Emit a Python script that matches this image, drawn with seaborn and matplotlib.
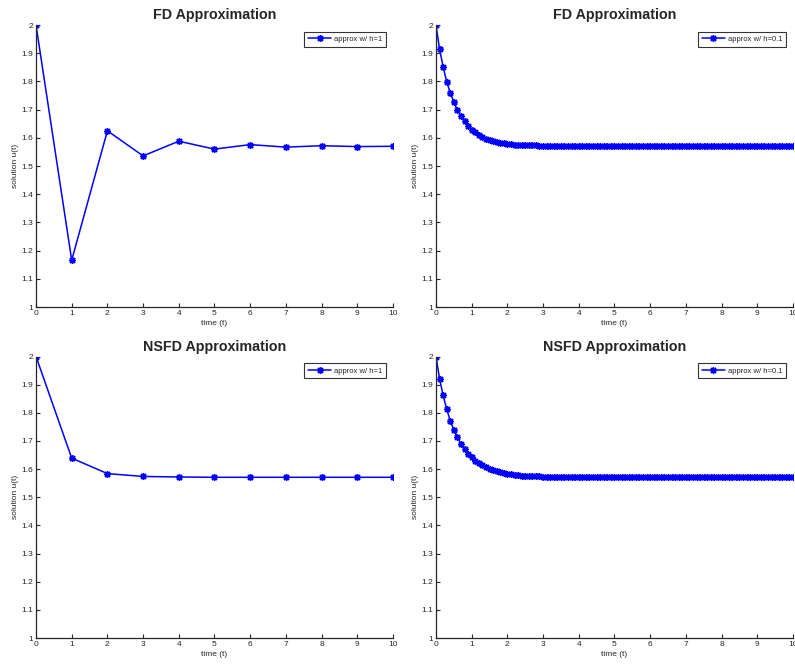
import numpy as np
import matplotlib
matplotlib.use("Agg")
import matplotlib.pyplot as plt
import seaborn as sns
from matplotlib.ticker import FormatStrFormatter, MultipleLocator

# Style: plain white axes, only left/bottom spines, ticks pointing in
sns.set_theme(style="ticks")
plt.rcParams['font.family'] = ['Liberation Sans', 'DejaVu Sans']
plt.rcParams['xtick.direction'] = 'in'
plt.rcParams['ytick.direction'] = 'in'

# ---- data ----
t_coarse = [0, 1, 2, 3, 4, 5, 6, 7, 8, 9, 10]
t_fine = np.linspace(0, 10, 101)

fd_h1 = [2.000, 1.166, 1.625, 1.536, 1.588, 1.560, 1.576, 1.567, 1.572, 1.569, 1.570]
nsfd_h1 = [2.000, 1.639, 1.584, 1.574, 1.572, 1.571, 1.571, 1.571, 1.571, 1.571, 1.571]

fd_h01 = [
    2.000, 1.915, 1.852, 1.799, 1.760, 1.727, 1.699, 1.678, 1.659, 1.642,
    1.629, 1.619, 1.610, 1.603, 1.597, 1.592, 1.588, 1.585, 1.583, 1.581,
    1.579, 1.577, 1.576, 1.575, 1.575, 1.574, 1.573, 1.573, 1.573, 1.572,
    1.572, 1.572, 1.571, 1.571, 1.571, 1.571, 1.571, 1.571, 1.571, 1.571,
    1.571, 1.571, 1.571, 1.571, 1.571, 1.571, 1.571, 1.571, 1.571, 1.571,
    1.571, 1.571, 1.571, 1.571, 1.571, 1.571, 1.571, 1.571, 1.571, 1.571,
    1.571, 1.571, 1.571, 1.571, 1.571, 1.571, 1.571, 1.571, 1.571, 1.571,
    1.571, 1.571, 1.571, 1.571, 1.571, 1.571, 1.571, 1.571, 1.571, 1.571,
    1.571, 1.571, 1.571, 1.571, 1.571, 1.571, 1.571, 1.571, 1.571, 1.571,
    1.571, 1.571, 1.571, 1.571, 1.571, 1.571, 1.571, 1.571, 1.571, 1.571,
    1.571,
]

nsfd_h01 = [
    2.000, 1.921, 1.862, 1.813, 1.772, 1.739, 1.713, 1.690, 1.671, 1.655,
    1.642, 1.630, 1.621, 1.613, 1.606, 1.601, 1.596, 1.592, 1.589, 1.586,
    1.583, 1.581, 1.580, 1.578, 1.577, 1.576, 1.575, 1.575, 1.574, 1.574,
    1.573, 1.573, 1.573, 1.572, 1.572, 1.572, 1.572, 1.571, 1.571, 1.571,
    1.571, 1.571, 1.571, 1.571, 1.571, 1.571, 1.571, 1.571, 1.571, 1.571,
    1.571, 1.571, 1.571, 1.571, 1.571, 1.571, 1.571, 1.571, 1.571, 1.571,
    1.571, 1.571, 1.571, 1.571, 1.571, 1.571, 1.571, 1.571, 1.571, 1.571,
    1.571, 1.571, 1.571, 1.571, 1.571, 1.571, 1.571, 1.571, 1.571, 1.571,
    1.571, 1.571, 1.571, 1.571, 1.571, 1.571, 1.571, 1.571, 1.571, 1.571,
    1.571, 1.571, 1.571, 1.571, 1.571, 1.571, 1.571, 1.571, 1.571, 1.571,
    1.571,
]

panels = [
    ("FD Approximation", t_coarse, fd_h1, "approx w/ h=1"),
    ("FD Approximation", t_fine, fd_h01, "approx w/ h=0.1"),
    ("NSFD Approximation", t_coarse, nsfd_h1, "approx w/ h=1"),
    ("NSFD Approximation", t_fine, nsfd_h01, "approx w/ h=0.1"),
]

# axes rectangles in figure fractions (left, bottom, width, height)
rects = [
    (0.0453, 0.539, 0.449, 0.4234),
    (0.5484, 0.539, 0.449, 0.4234),
    (0.0453, 0.042, 0.449, 0.4227),
    (0.5484, 0.042, 0.449, 0.4227),
]

fig = plt.figure(figsize=(7.95, 6.66), dpi=100)

for (title, tx, uy, lab), rect in zip(panels, rects):
    ax = fig.add_axes(rect)
    # 8-spoke asterisk, like the Octave '*' marker
    sns.lineplot(x=tx, y=uy, ax=ax, color='blue', marker=(8, 2, 0), markersize=5,
                 markeredgecolor='blue', markeredgewidth=1.0, linewidth=1.1,
                 label=lab)
    ax.set_xlim(0, 10)
    ax.set_ylim(1, 2)
    ax.xaxis.set_major_locator(MultipleLocator(1))
    ax.yaxis.set_major_locator(MultipleLocator(0.1))
    ax.yaxis.set_major_formatter(FormatStrFormatter('%g'))
    ax.tick_params(labelsize=6, length=3, width=0.8, colors='#262626', pad=2)
    for side in ['left', 'bottom']:
        ax.spines[side].set_color('#262626')
        ax.spines[side].set_linewidth(0.9)
    sns.despine(ax=ax)
    ax.set_title(title, fontsize=10.3, fontweight='bold', pad=4)
    ax.set_xlabel('time (t)', fontsize=6, color='#262626', labelpad=2)
    ax.set_ylabel('solution u(t)', fontsize=6, color='#262626', labelpad=2)
    leg = ax.legend(loc='upper right', fontsize=5.5, frameon=True, fancybox=False,
                    handlelength=3, borderaxespad=0.9, borderpad=0.5,
                    handletextpad=0.4)
    leg.get_frame().set_edgecolor('black')
    leg.get_frame().set_linewidth(0.8)

fig.savefig('out.png', dpi=100)
